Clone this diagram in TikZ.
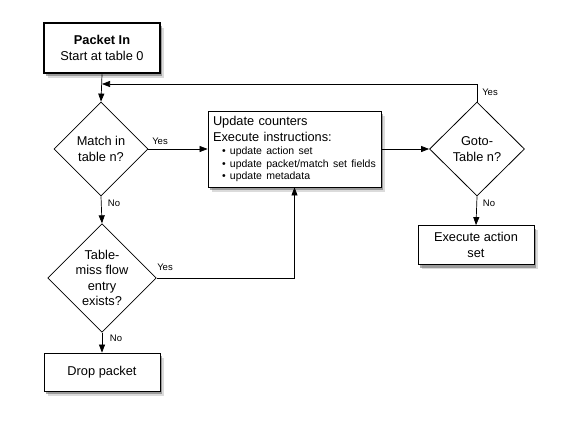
\documentclass[tikz,border=0pt]{standalone}
\usepackage{fontspec}
\setmainfont{Liberation Sans}
\usetikzlibrary{arrows.meta,shapes.geometric,shadows}
\newcommand{\bulitem}[1]{{\fontsize{10.5}{12.5}\selectfont\hspace*{9pt}\textbullet\ #1}}
\begin{document}
\begin{tikzpicture}[x=1pt,y=-1pt,
  box/.style={draw, line width=0.8pt, fill=white,
    drop shadow={shadow xshift=3.5pt, shadow yshift=-4.5pt, opacity=0.2, fill=black!70},
    drop shadow={shadow xshift=2pt, shadow yshift=-3pt, opacity=0.45, fill=black!70},
    align=center, inner sep=2pt, font=\fontsize{12.8}{15.5}\selectfont},
  dia/.style={diamond, aspect=1, draw, line width=0.8pt, fill=white,
    align=center, inner sep=0pt, font=\fontsize{12.8}{15.5}\selectfont},
  arr/.style={-{Triangle[length=8pt,width=6pt]}, line width=0.7pt},
  lbl/.style={font=\fontsize{9.5}{11}\selectfont, inner sep=0pt}]
\useasboundingbox (0,0) rectangle (564,421);
% nodes
\node[box, line width=2.8pt, minimum width=116pt, minimum height=50pt] (pkt) at (102,48)
  {\textbf{Packet In}\\Start at table 0};
\node[dia, minimum width=94pt, minimum height=94pt] (match) at (101,149) {Match in\\table n?};
\node[dia, minimum width=106pt, minimum height=105pt] (miss) at (102,278) {Table-\\miss flow\\entry\\exists?};
\node[box, minimum width=116pt, minimum height=38pt] (drop) at (102,372) {Drop packet};
\node[box, minimum width=173pt, minimum height=76pt, text width=163pt, align=left,
      inner xsep=5pt] (upd) at (294.5,149)
  {Update counters\\Execute instructions:\\[-2pt]\bulitem{update action set}\\[-3pt]\bulitem{update packet/match set fields}\\[-3pt]\bulitem{update metadata}};
\node[dia, minimum width=95pt, minimum height=94pt] (goto) at (477,149) {Goto-\\Table n?};
\node[box, minimum width=116pt, minimum height=39pt] (exec) at (476,245) {Execute action\\set};
\coordinate (join) at (102,84);
% connectors
\draw[arr] (pkt.south) -- (match.north);
\draw[arr] (match.east) -- (upd.west);
\draw[arr] (match.south) -- (miss.north);
\draw[arr] (miss.south) -- (drop.north);
\draw[arr] (miss.east) -| (upd.south);
\draw[arr] (upd.east) -- (goto.west);
\draw[arr] (goto.south) -- (exec.north);
\draw[arr] (goto.north) -- (goto.north |- join) -- (join);
% labels
\node[lbl] (l1) at (160,141) {Yes};
\node[lbl] (l2) at (114,203) {No};
\node[lbl] (l3) at (165,267) {Yes};
\node[lbl] (l4) at (116,338) {No};
\node[lbl] (l5) at (490,92) {Yes};
\node[lbl] (l6) at (489,203) {No};
\end{tikzpicture}
\end{document}
